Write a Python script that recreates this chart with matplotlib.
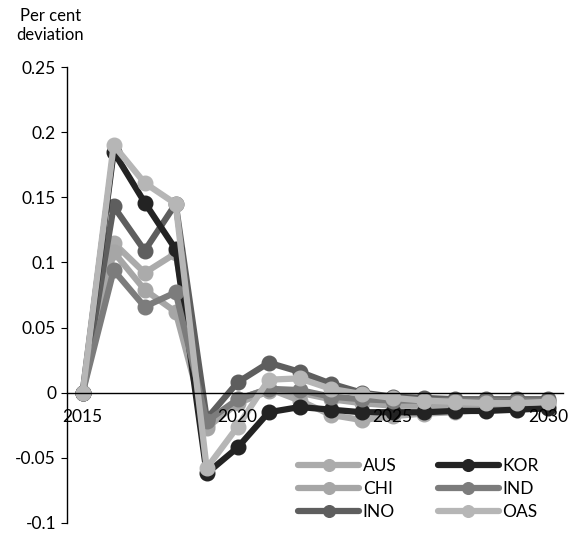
import numpy as np
import matplotlib.pyplot as plt

plt.rcParams['font.family'] = ['Lato', 'DejaVu Sans']

years = np.arange(2015, 2031)

# per cent deviation from baseline
aus = [0, 0.115, 0.092, 0.107, -0.025, -0.005, 0.003, -0.006, -0.017, -0.021,
       -0.018, -0.016, -0.015, -0.013, -0.012, -0.010]
chi = [0, 0.108, 0.079, 0.062, -0.027, -0.008, 0.001, 0.000, -0.005, -0.008,
       -0.010, -0.010, -0.010, -0.010, -0.009, -0.008]
ino = [0, 0.143, 0.109, 0.145, -0.020, 0.008, 0.023, 0.016, 0.007, 0.000,
       -0.003, -0.004, -0.005, -0.005, -0.005, -0.005]
kor = [0, 0.185, 0.146, 0.110, -0.062, -0.042, -0.015, -0.011, -0.013, -0.015,
       -0.015, -0.015, -0.014, -0.014, -0.013, -0.012]
ind = [0, 0.094, 0.066, 0.077, -0.022, -0.005, 0.003, 0.002, -0.003, -0.005,
       -0.006, -0.006, -0.006, -0.006, -0.006, -0.006]
oas = [0, 0.190, 0.161, 0.145, -0.058, -0.026, 0.010, 0.011, 0.003, -0.001,
       -0.004, -0.006, -0.007, -0.008, -0.008, -0.007]

labels = ['AUS', 'CHI', 'INO', 'KOR', 'IND', 'OAS']
series = [aus, chi, ino, kor, ind, oas]
colors = ['#ababab', '#a6a6a6', '#5e5e5e', '#232323', '#7c7c7c', '#b6b6b6']

fig = plt.figure(figsize=(5.69, 5.40), dpi=100)
ax = fig.add_axes([0.118, 0.0315, 0.872, 0.8444])

for lab, vals, c in zip(labels, series, colors):
    ax.plot(years, vals, color=c, lw=4.5, marker='o', ms=10.5, label=lab,
            solid_capstyle='round')

ax.set_xlim(2014.5, 2030.5)
ax.set_ylim(-0.1, 0.25)
ax.set_yticks([-0.1, -0.05, 0, 0.05, 0.1, 0.15, 0.2, 0.25])
ax.set_yticklabels(['-0.1', '-0.05', '0', '0.05', '0.1', '0.15', '0.2', '0.25'])
ax.set_xticks([2015, 2020, 2025, 2030])

ax.spines['top'].set_visible(False)
ax.spines['right'].set_visible(False)
ax.spines['bottom'].set_position(('data', 0))
ax.spines['bottom'].set_linewidth(1.0)
ax.spines['left'].set_linewidth(1.0)
ax.tick_params(axis='x', length=0, pad=12, labelsize=12.5)
ax.tick_params(axis='y', length=4, direction='out', labelsize=12.5, pad=4)
ax.xaxis.set_zorder(5)

fig.text(0.088, 0.985, 'Per cent\ndeviation', ha='center', va='top',
         fontsize=12, linespacing=1.25)

ax.legend(loc='upper left', bbox_to_anchor=(0.497, 0.18),
          bbox_transform=fig.transFigure, ncol=2, frameon=False,
          fontsize=12.5, handlelength=3.5, columnspacing=2.4,
          handletextpad=0.2, labelspacing=0.4, markerscale=0.8)

fig.savefig('out.png', dpi=100)
